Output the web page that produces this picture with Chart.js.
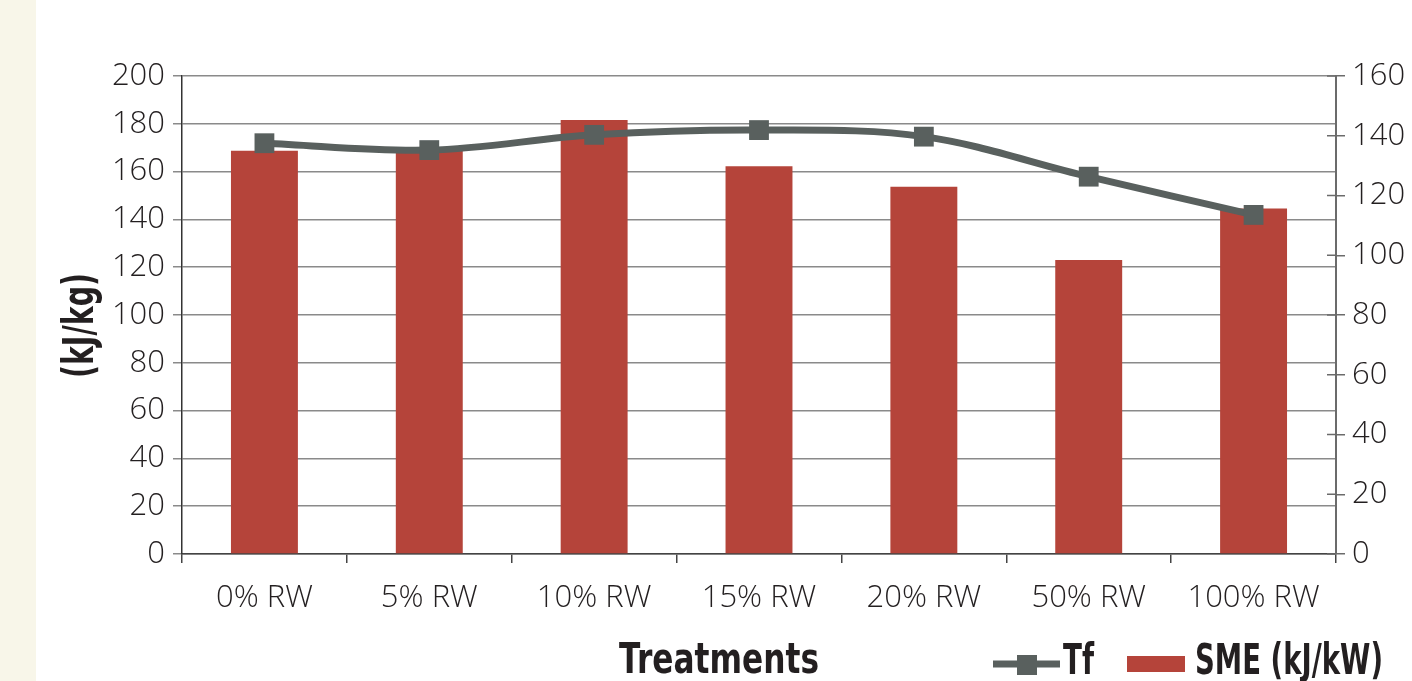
<!DOCTYPE html>
<html>
<head>
<meta charset="utf-8">
<script src="https://cdn.jsdelivr.net/npm/chart.js@4.4.1/dist/chart.umd.min.js"></script>
<style>
  html, body { margin: 0; padding: 0; }
  body {
    width: 1412px; height: 681px; overflow: hidden;
    background: linear-gradient(to right, #f8f6e9 0, #f8f6e9 36px, #ffffff 36px);
  }
  canvas { display: block; }
</style>
</head>
<body>
<canvas id="smeChart" width="1412" height="681"></canvas>
<script>
// data
const treatments = ['0% RW', '5% RW', '10% RW', '15% RW', '20% RW', '50% RW', '100% RW'];
const smeValues = [168.7, 169.5, 181.6, 162.2, 153.7, 123.0, 144.6]; // left axis, kJ/kg
const tfValues = [137.5, 135.2, 140.3, 141.9, 139.7, 126.3, 113.5];  // right axis
const leftAxis = [0, 200, 20];   // min, max, step
const rightAxis = [0, 160, 20];

const barColor = '#b5443a';
const lineColor = '#59605e';
const textColor = '#231f20';
const tickFont = { family: '"Open Sans", sans-serif', weight: 300, size: 31 };
const boldFamily = '"DejaVu Sans", sans-serif';

// bold condensed look: draw the text squeezed horizontally to a given width
function fitText(ctx, text, x, y, width) {
  const w = ctx.measureText(text).width;
  ctx.save();
  ctx.translate(x, y);
  ctx.scale(width / w, 1);
  ctx.fillText(text, 0, 0);
  ctx.restore();
}

// axis titles, legend and the inner half of the right-axis ticks
const extras = {
  id: 'extras',
  afterDraw(chart) {
    const ctx = chart.ctx;
    const area = chart.chartArea;
    const y1 = chart.scales.y1;
    ctx.save();

    ctx.strokeStyle = '#6b6b6b';
    ctx.lineWidth = 1.5;
    y1.ticks.forEach(t => {
      const py = y1.getPixelForValue(t.value);
      ctx.beginPath();
      ctx.moveTo(area.right - 9, py);
      ctx.lineTo(area.right, py);
      ctx.stroke();
    });

    ctx.fillStyle = textColor;
    ctx.textBaseline = 'alphabetic';
    ctx.textAlign = 'left';

    // y title
    ctx.save();
    ctx.font = `bold 42px ${boldFamily}`;
    ctx.translate(93, 378);
    ctx.rotate(-Math.PI / 2);
    fitText(ctx, '(kJ/kg)', 0, 0, 105);
    ctx.restore();

    // x title
    ctx.font = `bold 42px ${boldFamily}`;
    fitText(ctx, 'Treatments', 619, 673, 200);

    // legend: Tf line with square marker
    const tf = chart.data.datasets[0];
    const sme = chart.data.datasets[1];
    ctx.strokeStyle = tf.borderColor;
    ctx.lineWidth = 7;
    ctx.beginPath();
    ctx.moveTo(993, 664);
    ctx.lineTo(1060, 664);
    ctx.stroke();
    ctx.fillStyle = tf.borderColor;
    ctx.fillRect(1017, 655, 20, 20);

    ctx.fillStyle = textColor;
    ctx.font = `bold 42px ${boldFamily}`;
    fitText(ctx, tf.label, 1063, 674, 31);

    ctx.fillStyle = sme.backgroundColor;
    ctx.fillRect(1127, 656, 58, 16);
    ctx.fillStyle = textColor;
    fitText(ctx, sme.label, 1195, 674, 188);

    ctx.restore();
  }
};

new Chart(document.getElementById('smeChart'), {
  type: 'bar',
  data: {
    labels: treatments,
    datasets: [
      {
        type: 'line',
        label: 'Tf',
        data: tfValues,
        yAxisID: 'y1',
        borderColor: lineColor,
        backgroundColor: lineColor,
        borderWidth: 7,
        tension: 0.35,
        pointStyle: 'rect',
        pointRadius: 14,
        pointBorderWidth: 0,
        pointBackgroundColor: lineColor,
        order: 0
      },
      {
        type: 'bar',
        label: 'SME (kJ/kW)',
        data: smeValues,
        yAxisID: 'y',
        backgroundColor: barColor,
        barPercentage: 0.406,
        categoryPercentage: 1,
        order: 1
      }
    ]
  },
  options: {
    responsive: false,
    animation: false,
    layout: { padding: { top: 76, left: 0, right: 0, bottom: 0 } },
    plugins: {
      legend: { display: false },
      tooltip: { enabled: false }
    },
    scales: {
      x: {
        grid: { offset: true, drawOnChartArea: false, tickLength: 9, color: '#444', lineWidth: 1.5 },
        border: { color: '#444', width: 1.5 },
        ticks: { font: tickFont, color: textColor, padding: 17 },
        afterFit: s => { s.height = 127; }
      },
      y: {
        position: 'left',
        min: leftAxis[0],
        max: leftAxis[1],
        ticks: { stepSize: leftAxis[2], font: tickFont, color: textColor, padding: 8 },
        grid: { color: '#8a8a8a', lineWidth: 1.5, tickLength: 9 },
        border: { color: '#333', width: 1.5 },
        afterFit: s => { s.width = 182; }
      },
      y1: {
        position: 'right',
        min: rightAxis[0],
        max: rightAxis[1],
        ticks: { stepSize: rightAxis[2], font: tickFont, color: textColor, padding: 7 },
        grid: { drawOnChartArea: false, tickLength: 9, color: '#6b6b6b', lineWidth: 1.5 },
        border: { color: '#6b6b6b', width: 2 },
        afterFit: s => { s.width = 76; }
      }
    }
  },
  plugins: [extras]
});
</script>
</body>
</html>
